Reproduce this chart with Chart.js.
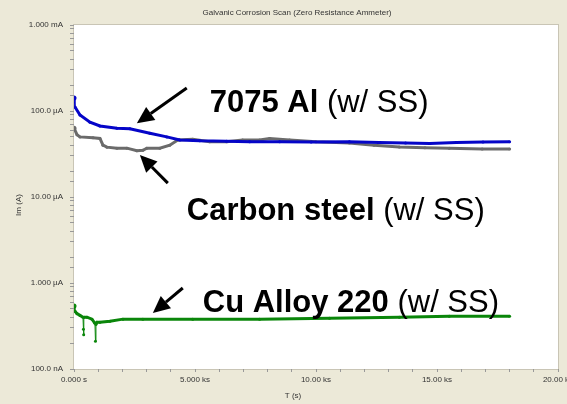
<!DOCTYPE html>
<html>
<head>
<meta charset="utf-8">
<script src="https://cdn.jsdelivr.net/npm/chart.js@4.4.1/dist/chart.umd.min.js"></script>
<style>
  html, body { margin: 0; padding: 0; background: #ece9d8; }
  #wrap { width: 567px; height: 404px; }
</style>
</head>
<body>
<div id="wrap"><canvas id="chart" width="567" height="404"></canvas></div>
<script>
// time in s, current in µA
const alT = [0, 41, 247, 660, 1072, 1773, 2309, 3134, 3835, 4371, 5200, 6300, 7260, 8500, 9800, 11380, 12600, 13700, 14700, 15800, 16900, 18000];
const alI = [142, 111, 90, 74, 67, 63, 62, 55, 50, 46, 45, 44.5, 44, 44, 43.5, 44, 43, 42.5, 42, 43, 43.5, 44];

const steelT = [0, 124, 247, 784, 1072, 1196, 1361, 1773, 2186, 2598, 2845, 3010, 3546, 3959, 4289, 4907, 5608, 6309, 6969, 7670, 8082, 8907, 10000, 11381, 12400, 13443, 14500, 15505, 16866, 18000];
const steelI = [63, 53, 50, 49, 48, 40, 38, 37, 37, 34.5, 35, 37, 37, 40, 46, 47, 44, 44, 46, 46, 48, 46, 44, 42.5, 40, 38.2, 37.5, 37, 36.2, 36.2];

const cuT = [0, 40, 124, 247, 371, 390, 400, 412, 536, 742, 866, 887, 907, 948, 1072, 1485, 2021, 2845, 4907, 7670, 10557, 13443, 15505, 18000];
const cuI = [0.54, 0.47, 0.44, 0.42, 0.40, 0.29, 0.25, 0.40, 0.40, 0.38, 0.34, 0.21, 0.33, 0.35, 0.35, 0.36, 0.38, 0.38, 0.38, 0.38, 0.39, 0.40, 0.41, 0.41];

const xTickValues = [0, 5000, 10000, 15000, 20000];
const xTickLabels = ["0.000 s", "5.000 ks", "10.00 ks", "15.00 ks", "20.00 ks"];
const yTickValues = [1000, 100, 10, 1, 0.1];
const yTickLabels = ["1.000 mA", "100.0 µA", "10.00 µA", "1.000 µA", "100.0 nA"];

// labels: bold part, normal part, anchor (t, µA) of the baseline start
const noteBold = ["7075 Al", "Carbon steel", "Cu Alloy 220"];
const noteRest = [" (w/ SS)", " (w/ SS)", " (w/ SS)"];
const noteAt = [[5608, 97], [4660, 5.4], [5320, 0.46]];
// arrows: tail (t, µA) -> head (t, µA)
const arrowFrom = [[4660, 185], [3876, 14.5], [4495, 0.875]];
const arrowTo = [[2598, 72], [2722, 30.8], [3258, 0.448]];

const FONT = '"Liberation Sans", Arial, sans-serif';
Chart.defaults.font.family = FONT;

function pts(t, v) {
  return t.map((x, i) => ({ x: x, y: v[i] }));
}

function series(label, t, v, color) {
  return {
    label: label,
    data: pts(t, v),
    borderColor: color,
    backgroundColor: color,
    borderWidth: 3,
    pointRadius: (c) => (c.dataIndex === 0 ? 2.5 : 1.5),
    pointBorderWidth: 0,
    tension: 0,
    segment: {
      // steep jumps look like thin connector lines in the original
      borderWidth: (c) => {
        const dx = Math.abs(c.p1.x - c.p0.x);
        const dy = Math.abs(c.p1.y - c.p0.y);
        return dy > 4 && dy > 3 * dx ? 1 : 3;
      },
    },
  };
}

function arrow(ctx, x0, y0, x1, y1) {
  const a = Math.atan2(y1 - y0, x1 - x0);
  const len = 17, half = 8;
  const bx = x1 - len * Math.cos(a), by = y1 - len * Math.sin(a);
  ctx.beginPath();
  ctx.moveTo(x0, y0);
  ctx.lineTo(bx, by);
  ctx.lineWidth = 3;
  ctx.strokeStyle = "#000";
  ctx.stroke();
  ctx.beginPath();
  ctx.moveTo(x1, y1);
  ctx.lineTo(bx + half * Math.sin(a), by - half * Math.cos(a));
  ctx.lineTo(bx - half * Math.sin(a), by + half * Math.cos(a));
  ctx.closePath();
  ctx.fillStyle = "#000";
  ctx.fill();
}

const frame = {
  id: "frame",
  beforeDraw(chart) {
    const { ctx, chartArea: a } = chart;
    ctx.save();
    ctx.fillStyle = "#ece9d8";
    ctx.fillRect(0, 0, chart.width, chart.height);
    ctx.fillStyle = "#fff";
    ctx.fillRect(a.left, a.top, a.right - a.left, a.bottom - a.top);
    ctx.strokeStyle = "#c9c5b5";
    ctx.lineWidth = 1;
    ctx.strokeRect(a.left - 0.5, a.top - 0.5, a.right - a.left + 1, a.bottom - a.top + 1);
    ctx.restore();
  },
  afterDraw(chart) {
    const { ctx } = chart;
    const xs = chart.scales.x, ys = chart.scales.y;
    ctx.save();
    ctx.fillStyle = "#333";
    ctx.font = "8px " + FONT;
    ctx.textAlign = "center";
    ctx.textBaseline = "middle";
    ctx.fillText("Galvanic Corrosion Scan (Zero Resistance Ammeter)", 297, 13);
    ctx.fillText("T (s)", 293, 396);
    ctx.save();
    ctx.translate(19, 205);
    ctx.rotate(-Math.PI / 2);
    ctx.fillText("Im (A)", 0, 0);
    ctx.restore();

    for (let i = 0; i < arrowFrom.length; i++) {
      arrow(ctx,
        xs.getPixelForValue(arrowFrom[i][0]), ys.getPixelForValue(arrowFrom[i][1]),
        xs.getPixelForValue(arrowTo[i][0]), ys.getPixelForValue(arrowTo[i][1]));
    }

    ctx.fillStyle = "#000";
    ctx.textAlign = "left";
    ctx.textBaseline = "alphabetic";
    for (let i = 0; i < noteBold.length; i++) {
      const x = xs.getPixelForValue(noteAt[i][0]);
      const y = ys.getPixelForValue(noteAt[i][1]);
      ctx.font = "bold 31px " + FONT;
      ctx.fillText(noteBold[i], x, y);
      const w = ctx.measureText(noteBold[i]).width;
      ctx.font = "31px " + FONT;
      ctx.fillText(noteRest[i], x + w, y);
    }
    ctx.restore();
  },
};

new Chart(document.getElementById("chart"), {
  type: "line",
  data: {
    datasets: [
      series("7075 Al (w/ SS)", alT, alI, "#0505c8"),
      series("Carbon steel (w/ SS)", steelT, steelI, "#6b6b6b"),
      series("Cu Alloy 220 (w/ SS)", cuT, cuI, "#0a860a"),
    ],
  },
  options: {
    responsive: false,
    animation: false,
    layout: { padding: { top: 25, right: 9, left: 0, bottom: 0 } },
    plugins: { legend: { display: false }, tooltip: { enabled: false } },
    scales: {
      x: {
        type: "linear",
        min: 0,
        max: 20000,
        afterFit(s) { s.height = 35; s.paddingLeft = 0; s.paddingRight = 0; },
        border: { display: false },
        grid: { drawOnChartArea: false, tickLength: 3, color: "#999" },
        ticks: {
          stepSize: 1000,
          autoSkip: false,
          maxRotation: 0,
          padding: 3,
          color: "#333",
          font: { size: 8 },
          callback: (v) => {
            const k = xTickValues.indexOf(v);
            return k >= 0 ? xTickLabels[k] : "";
          },
        },
      },
      y: {
        type: "logarithmic",
        min: 0.1,
        max: 1000,
        afterFit(s) { s.width = 74; s.paddingTop = 0; s.paddingBottom = 0; },
        border: { display: false },
        grid: { drawOnChartArea: false, tickLength: 4, color: "#999" },
        ticks: {
          autoSkip: false,
          padding: 7,
          color: "#333",
          font: { size: 8 },
          callback: (v) => {
            const k = yTickValues.findIndex((d) => Math.abs(d - v) < d * 1e-6);
            return k >= 0 ? yTickLabels[k] : "";
          },
        },
      },
    },
  },
  plugins: [frame],
});
</script>
</body>
</html>
